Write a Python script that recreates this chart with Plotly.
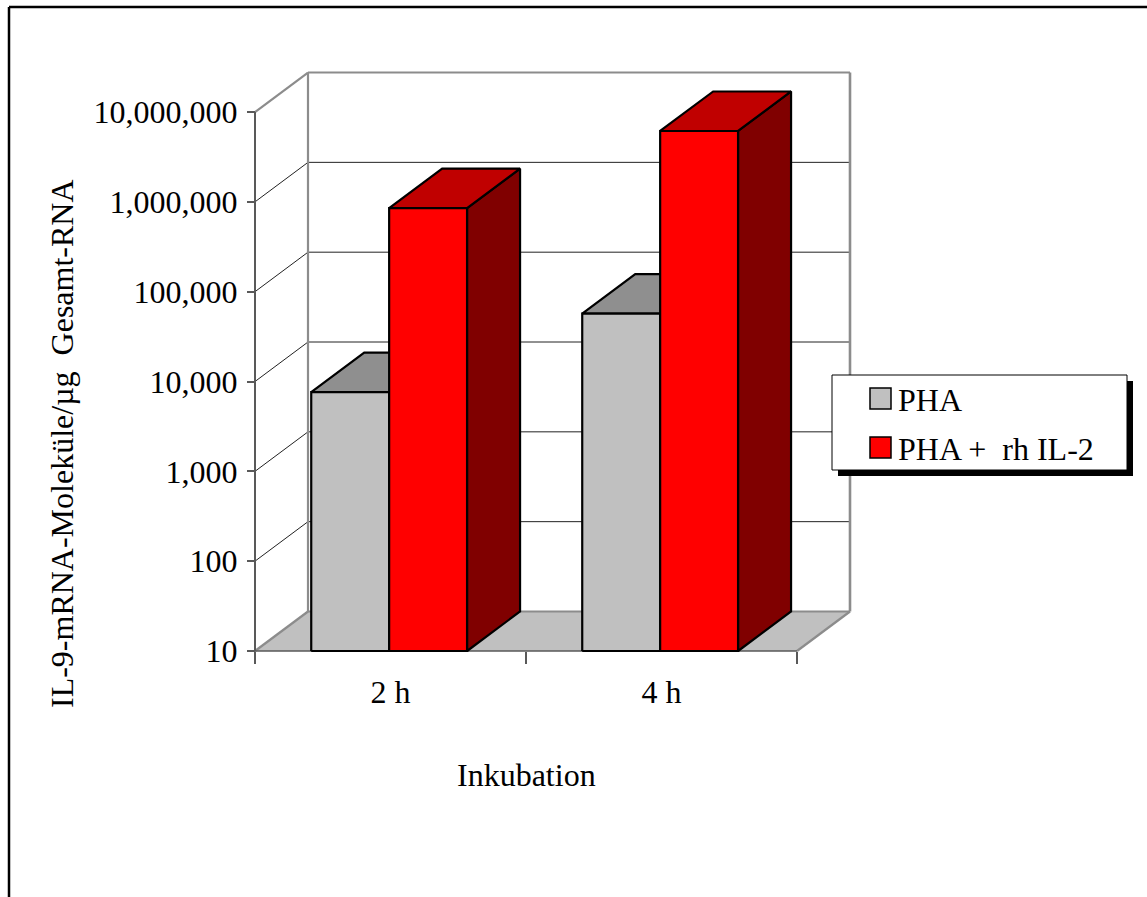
import plotly.graph_objects as go

# ---- data -------------------------------------------------------------
categories = ["2 h", "4 h"]
series_names = ["PHA", "PHA +  rh IL-2"]
pha = [7600, 57000]
pha_il2 = [850000, 6150000]
y_tickvals = [10, 100, 1000, 10000, 100000, 1000000, 10000000]
y_ticktext = ["10", "100", "1,000", "10,000", "100,000", "1,000,000", "10,000,000"]

series_values = [pha, pha_il2]
# face colours per series: front, top, side
face_colors = [
    ("#C0C0C0", "#8F8F8F", "#606060"),
    ("#FF0000", "#C00000", "#800000"),
]

FONT = "Liberation Serif, Times New Roman, serif"
FS = 32

# ---- geometry of the pseudo-3D box -------------------------------------
W, H = 1147, 897
PL, PR, PT, PB = 243, 865, 63, 661          # plot area in page pixels
X0_PX, Y0_PX = 255, 651                     # front-left-bottom corner of the box
PX_PER_UNIT = 271.0                         # one category per unit on x
PX_PER_DECADE = 89.83                       # log axis scale
DEPTH_PX = (53.0, 39.5)                     # oblique projection of the box depth

dx = DEPTH_PX[0] / PX_PER_UNIT
K = 10 ** (DEPTH_PX[1] / PX_PER_DECADE)     # multiplicative shift of depth on log y

x_range = [(PL - X0_PX) / PX_PER_UNIT, (PR - X0_PX) / PX_PER_UNIT]
y_range = [1 - (PB - Y0_PX) / PX_PER_DECADE, 1 + (Y0_PX - PT) / PX_PER_DECADE]

n_cat = len(categories)
ymin, ymax = y_tickvals[0], y_tickvals[-1]
bar_w = 0.2875
group_shift = -0.005


def paper_x(px):
    return (px - PL) / (PR - PL)


def paper_y(py):
    return (PB - py) / (PB - PT)


fig = go.Figure()


def add_poly(xs, ys, fill, line_color="black", width=2.2):
    fig.add_trace(go.Scatter(
        x=list(xs) + [xs[0]], y=list(ys) + [ys[0]], mode="lines",
        fill="toself", fillcolor=fill,
        line=dict(color=line_color, width=width),
        hoverinfo="skip", showlegend=False))


def add_line(xs, ys, color, width):
    fig.add_trace(go.Scatter(
        x=xs, y=ys, mode="lines", line=dict(color=color, width=width),
        hoverinfo="skip", showlegend=False))


WALL = "#8C8C8C"
AXIS = "#595959"

# floor
add_poly([0, n_cat, n_cat + dx, dx], [ymin, ymin, ymin * K, ymin * K],
         "#C0C0C0", line_color="rgba(0,0,0,0)", width=0)

# gridlines on the left wall and back wall
for v in y_tickvals:
    edge = v in (ymin, ymax)
    col = WALL if edge else "#222222"
    wdt = 2.2 if edge else 1
    add_line([0, dx], [v, v * K], col, wdt)
    add_line([dx, n_cat + dx], [v * K, v * K], col, wdt)

# back vertical edges and right floor edge
add_line([dx, dx], [ymin * K, ymax * K], WALL, 2.2)
add_line([n_cat + dx, n_cat + dx], [ymin * K, ymax * K], WALL, 2.6)
add_line([n_cat, n_cat + dx], [ymin, ymin * K], WALL, 2.2)

# front axis edges
add_line([0, n_cat], [ymin, ymin], AXIS, 1.5)
add_line([0, 0], [ymin, ymax], AXIS, 2)

# bars, painted left to right so nearer faces cover farther ones
for i in range(n_cat):
    for j, vals in enumerate(series_values):
        v = vals[i]
        front, top, side = face_colors[j]
        x0 = i + 0.5 + group_shift + (j - 1) * bar_w
        x1 = x0 + bar_w
        add_poly([x1, x1, x1 + dx, x1 + dx], [ymin, v, v * K, ymin * K], side)
        add_poly([x0, x1, x1 + dx, x0 + dx], [v, v, v * K, v * K], top)
        add_poly([x0, x1, x1, x0], [ymin, ymin, v, v], front)

# ---- legend (drawn by hand to get the drop shadow) ----------------------
shapes = []
annotations = []
shapes.append(dict(type="rect", xref="paper", yref="paper",
                   x0=paper_x(838), x1=paper_x(1133), y0=paper_y(381), y1=paper_y(476),
                   fillcolor="black", line=dict(width=0)))
shapes.append(dict(type="rect", xref="paper", yref="paper",
                   x0=paper_x(832), x1=paper_x(1127), y0=paper_y(375), y1=paper_y(470),
                   fillcolor="white", line=dict(color="black", width=1)))
for j, name in enumerate(series_names):
    cy = 398.5 + j * 49
    shapes.append(dict(type="rect", xref="paper", yref="paper",
                       x0=paper_x(870), x1=paper_x(891),
                       y0=paper_y(cy - 10.5), y1=paper_y(cy + 10.5),
                       fillcolor=face_colors[j][0], line=dict(color="black", width=1.5)))
    annotations.append(dict(text=name, xref="paper", yref="paper",
                            x=paper_x(896), y=paper_y(cy + 1), xanchor="left", yanchor="middle",
                            showarrow=False, font=dict(family=FONT, size=FS, color="black")))

# outer frame
shapes.append(dict(type="line", xref="paper", yref="paper",
                   x0=paper_x(9), x1=paper_x(W + 5), y0=paper_y(7), y1=paper_y(7),
                   line=dict(color="black", width=2.5)))
shapes.append(dict(type="line", xref="paper", yref="paper",
                   x0=paper_x(9), x1=paper_x(9), y0=paper_y(7), y1=paper_y(H + 5),
                   line=dict(color="black", width=2.5)))

# axis titles
annotations.append(dict(text="IL-9-mRNA-Moleküle/µg  Gesamt-RNA", xref="paper", yref="paper",
                        x=paper_x(62), y=paper_y(444), textangle=-90,
                        xanchor="center", yanchor="middle", showarrow=False,
                        font=dict(family=FONT, size=FS, color="black")))
annotations.append(dict(text="Inkubation", xref="paper", yref="paper",
                        x=paper_x(526), y=paper_y(775), xanchor="center", yanchor="middle",
                        showarrow=False, font=dict(family=FONT, size=FS, color="black")))

fig.update_layout(
    width=W, height=H,
    margin=dict(l=PL, r=W - PR, t=PT, b=H - PB, pad=0),
    paper_bgcolor="white", plot_bgcolor="white",
    showlegend=False,
    shapes=shapes, annotations=annotations,
    font=dict(family=FONT, size=FS, color="black"),
    xaxis=dict(
        range=x_range, anchor="free", position=paper_y(Y0_PX),
        showgrid=False, zeroline=False, showline=False, automargin=False,
        tickmode="array", tickvals=[i + 0.5 for i in range(n_cat)], ticktext=categories,
        ticks="", ticklabelstandoff=19,
        tickfont=dict(family=FONT, size=FS, color="black"),
        minor=dict(tickmode="array", tickvals=list(range(n_cat + 1)), ticks="outside",
                   ticklen=12, tickwidth=1.5, tickcolor=AXIS, showgrid=False),
    ),
    yaxis=dict(
        type="log", range=y_range, anchor="free", position=paper_x(X0_PX),
        showgrid=False, zeroline=False, showline=False, automargin=False,
        tickmode="array", tickvals=y_tickvals, ticktext=y_ticktext,
        ticks="outside", ticklen=8, tickwidth=1.5, tickcolor=AXIS,
        ticklabelstandoff=3,
        tickfont=dict(family=FONT, size=FS, color="black"),
    ),
)

fig.write_html("out.html")
